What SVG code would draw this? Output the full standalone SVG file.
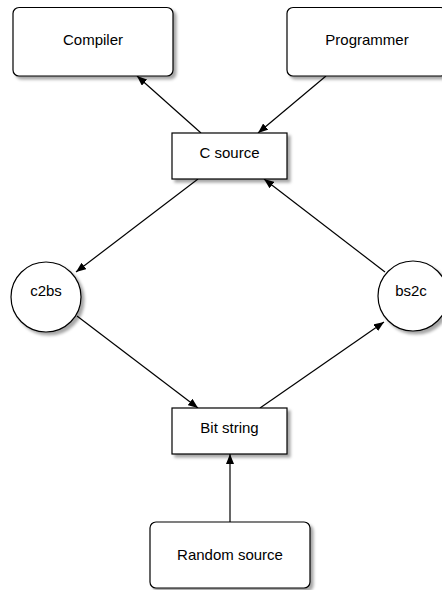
<svg xmlns="http://www.w3.org/2000/svg" width="442" height="590" viewBox="0 0 442 590">
  <defs>
    <filter id="shadow" x="-10%" y="-10%" width="130%" height="130%">
      <feDropShadow dx="3" dy="3" stdDeviation="1.5" flood-color="#000" flood-opacity="0.35"/>
    </filter>
    <marker id="arrow" markerWidth="10" markerHeight="8" refX="10" refY="4" orient="auto" markerUnits="userSpaceOnUse">
      <path d="M0,0 L10,4 L0,8 z" fill="#000"/>
    </marker>
  </defs>
  <style>
    .node { fill: #fff; stroke: #000; stroke-width: 1.2; filter: url(#shadow); }
    .label { font-family: "Liberation Sans", Helvetica, Arial, sans-serif; font-size: 15px; fill: #000; text-anchor: middle; }
    .edge { stroke: #000; stroke-width: 1.2; fill: none; marker-end: url(#arrow); }
  </style>
  <rect width="442" height="590" fill="#fff"/>
  <g id="connectors">
    <line class="edge" x1="201" y1="133" x2="137" y2="76"/>
    <line class="edge" x1="326" y1="76" x2="258" y2="133"/>
    <line class="edge" x1="198" y1="179" x2="76" y2="272"/>
    <line class="edge" x1="385" y1="272" x2="264" y2="179"/>
    <line class="edge" x1="77" y1="316" x2="198" y2="408"/>
    <line class="edge" x1="260" y1="408" x2="384" y2="322"/>
    <line class="edge" x1="230" y1="522" x2="230" y2="454"/>
  </g>
  <g id="compiler">
    <rect class="node" x="13" y="7.5" width="160" height="68.5" rx="6"/>
    <text class="label" x="93" y="44.5">Compiler</text>
  </g>
  <g id="programmer">
    <rect class="node" x="287" y="7.5" width="160" height="68.5" rx="6"/>
    <text class="label" x="367" y="44.5">Programmer</text>
  </g>
  <g id="c-source">
    <rect class="node" x="172" y="133" width="115" height="46"/>
    <text class="label" x="229.5" y="158">C source</text>
  </g>
  <g id="c2bs">
    <circle class="node" cx="46" cy="297" r="35"/>
    <text class="label" x="46" y="296">c2bs</text>
  </g>
  <g id="bs2c">
    <circle class="node" cx="413" cy="296" r="35"/>
    <text class="label" x="411" y="296">bs2c</text>
  </g>
  <g id="bit-string">
    <rect class="node" x="172" y="408" width="115" height="46"/>
    <text class="label" x="229.5" y="433">Bit string</text>
  </g>
  <g id="random-source">
    <rect class="node" x="150" y="522" width="160" height="66" rx="6"/>
    <text class="label" x="230" y="560">Random source</text>
  </g>
</svg>
